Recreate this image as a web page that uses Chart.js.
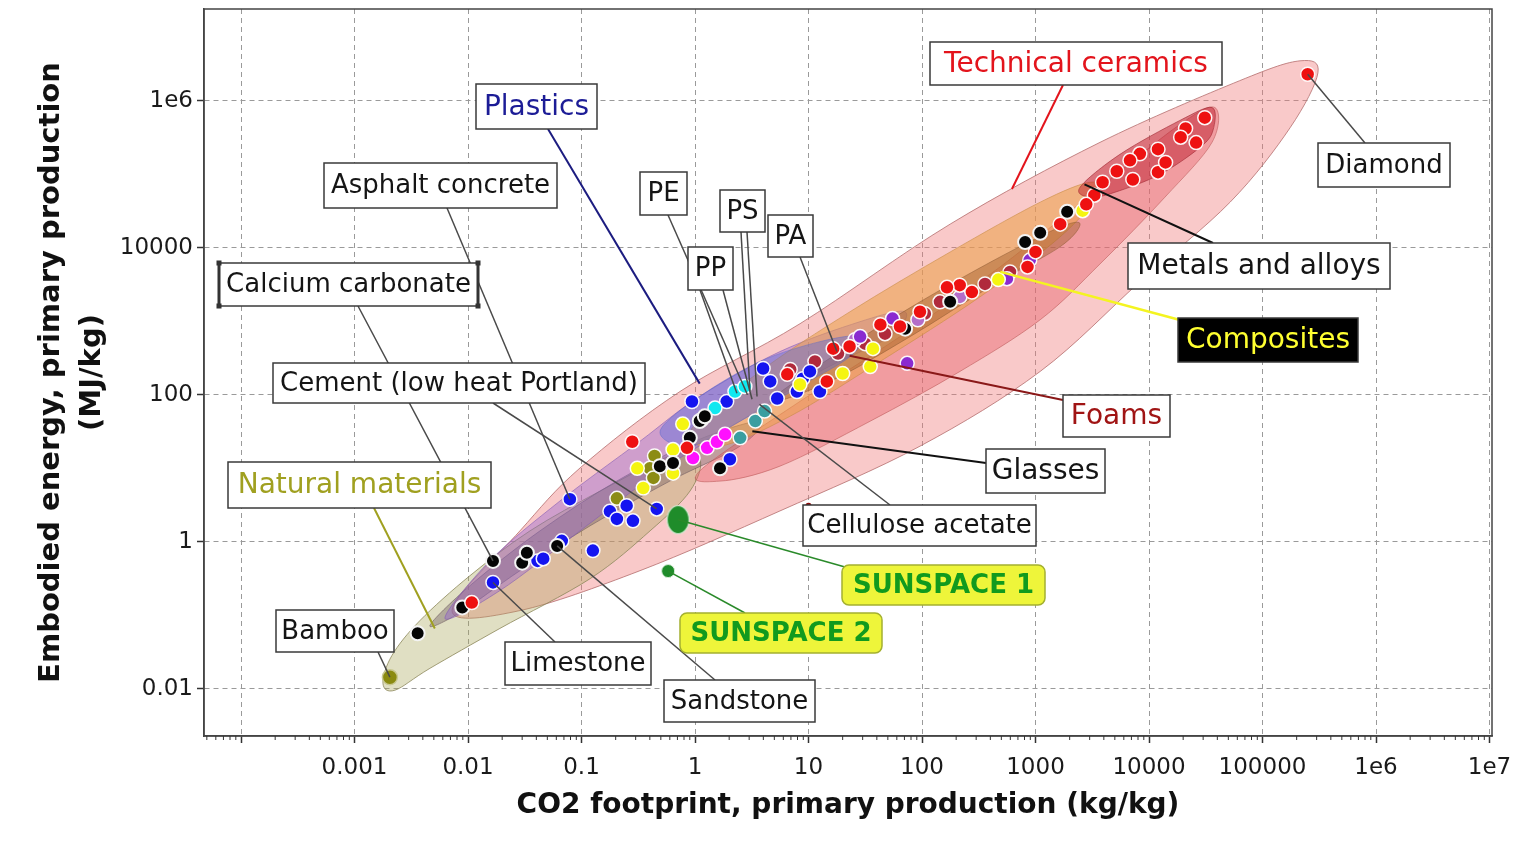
<!DOCTYPE html>
<html>
<head>
<meta charset="utf-8">
<script src="https://cdn.jsdelivr.net/npm/chart.js@4.4.1/dist/chart.umd.min.js"></script>
<style>
html, body { margin: 0; padding: 0; background: #fff; }
#wrap { width: 1527px; height: 860px; }
</style>
</head>
<body>
<div id="wrap"><canvas id="monGraphique" width="1527" height="860"></canvas></div>
<script>
// --- axes ---
const xMin = 4.72e-5, xMax = 1.052e7;
const yMin = 0.00228, yMax = 1.775e7;
const xTicks = [1e-4, 1e-3, 1e-2, 1e-1, 1, 10, 100, 1000, 1e4, 1e5, 1e6, 1e7];
const xTickLabels = ['', '0.001', '0.01', '0.1', '1', '10', '100', '1000', '10000', '100000', '1e6', '1e7'];
const yTicks = [0.01, 1, 100, 1e4, 1e6];
const yTickLabels = ['0.01', '1', '100', '10000', '1e6'];

// --- materials [CO2 kg/kg, energy MJ/kg] ---
const diamond = [[2.5e5, 2.3e6]];
const redPts = [[3.1e4, 5.9e5], [2.1e4, 4.2e5], [2.6e4, 2.7e5], [1.9e4, 3.2e5], [1.2e4, 2.2e5], [8300, 1.9e5],
  [6800, 1.55e5], [5200, 1.1e5], [7200, 8.5e4], [1.2e4, 1.07e5], [1.4e4, 1.45e5], [3900, 7.8e4], [3300, 5.2e4],
  [2800, 3.9e4], [1650, 2.1e4], [1000, 8800], [850, 5500], [215, 3100], [166, 2900], [275, 2500], [96, 1350],
  [64, 850], [43, 900], [23, 455], [16.5, 425], [14.5, 152], [6.5, 190], [0.85, 19], [0.28, 23], [0.0108, 0.149]];
const blackPts = [[1900, 3.1e4], [1100, 1.6e4], [810, 1.2e4], [177, 1850], [71, 795], [1.1, 44], [1.22, 51],
  [0.9, 26], [1.66, 10], [0.49, 10.7], [0.64, 11.8], [0.061, 0.88], [0.0166, 0.55], [0.030, 0.52], [0.033, 0.71],
  [0.0089, 0.128], [0.0036, 0.057]];
const yellowPts = [[2600, 3.2e4], [470, 3700], [37, 425], [35, 242], [20, 195], [8.4, 138], [1.15, 46], [0.78, 40],
  [0.64, 18], [0.31, 10], [0.64, 8.6], [0.35, 5.4]];
const olivePts = [[0.44, 14.7], [0.40, 10], [0.43, 7.4], [0.205, 3.9]];
const bamboo = [[0.00205, 0.0144]];
const bluePts = [[0.94, 81], [0.079, 3.8], [0.178, 2.6], [0.25, 3.1], [0.205, 2.05], [0.284, 1.93], [0.46, 2.8],
  [0.126, 0.76], [0.067, 1.03], [0.041, 0.55], [0.046, 0.59], [0.0166, 0.28], [2.03, 13.3], [3.98, 228], [5.3, 89],
  [7.9, 111], [12.6, 111], [8.9, 166], [1.9, 81], [4.6, 152], [10.3, 208]];
const cyanPts = [[2.25, 111], [1.5, 66], [2.75, 130]];
const tealPts = [[2.5, 26], [3.4, 44], [4.1, 60]];
const magentaPts = [[0.96, 13.8], [1.28, 19], [1.56, 23], [1.84, 29]];
const purplePts = [[890, 6800], [560, 3800], [55, 1090], [28.5, 620], [74, 268]];
const maroonPts = [[6.9, 221], [11.4, 284], [18.2, 364], [31.5, 497], [47.2, 679], [106, 1270], [144, 1840],
  [359, 3230], [596, 4700]];
const lilacPts = [[25.7, 563], [92, 1050], [216, 2150]];
const sunspace1 = [[0.71, 2.0]];
const sunspace2 = [[0.58, 0.40]];
const celluloseMark = [[10, 3.1]];

// --- family envelopes (outline vertices) ---
const envCeramics = [[0.00723, 0.116], [0.0287, 1.41], [0.097, 10.1], [0.738, 111], [8.41, 927], [177, 2.1e4],
  [3700, 2.72e5], [6.3e4, 1.88e6], [2.14e5, 3.5e6], [3.08e5, 2.41e6], [1.75e5, 4.3e5], [5.2e4, 4.2e4],
  [8300, 3440], [1100, 208], [96, 20], [5.6, 2.63], [0.328, 0.405], [0.0287, 0.116]];
const envNatural = [[0.00178, 0.0119], [0.00214, 0.0285], [0.00378, 0.0851], [0.0104, 0.346], [0.0352, 1.41],
  [0.146, 4.91], [0.60, 14.6], [1.1, 13.3], [0.904, 4.91], [0.402, 1.41], [0.119, 0.315], [0.0191, 0.0663],
  [0.00462, 0.019], [0.00227, 0.00957]];
const envStone = [[0.00462, 0.0728], [0.0104, 0.253], [0.0431, 1.41], [0.218, 7.1], [1.1, 24.9], [3.74, 43.6],
  [2.49, 20], [0.60, 6.7], [0.119, 1.65], [0.0287, 0.405], [0.0085, 0.109]];
const envPolymers = [[0.00627, 0.0905], [0.0156, 0.553], [0.0647, 3.6], [0.328, 23.4], [1.1, 95], [5.6, 387],
  [28.4, 988], [70.8, 1350], [52, 618], [12.6, 208], [2.49, 43.6], [0.492, 9.2], [0.097, 1.41], [0.0191, 0.217]];
const envPlastics = [[0.492, 31.9], [1.1, 95], [3.74, 284], [12.6, 529], [28.4, 618], [23.2, 331], [8.41, 130],
  [2.49, 43.6], [0.904, 20]];
const envMetals = [[1.1, 9.2], [8.41, 81.4], [64, 618], [487, 5490], [3700, 6.67e4], [1.87e4, 4.76e5],
  [3.81e4, 8.09e5], [3.59e4, 2.72e5], [1.38e4, 4.88e4], [3700, 6030], [1100, 1050], [216, 208], [34.8, 43.6],
  [5.6, 10.7], [1.66, 6.7]];
const envComposites = [[0.904, 31.9], [3.74, 208], [23.2, 1350], [177, 8770], [1100, 4.18e4], [3020, 7.8e4],
  [3560, 5.36e4], [1640, 1.4e4], [324, 2150], [42.7, 284], [6.87, 51], [1.66, 20]];
const envFoams = [[4.58, 81.4], [18.9, 387], [96, 1840], [487, 7500], [1640, 1.91e4], [2470, 2.1e4],
  [1640, 1.03e4], [397, 2940], [78.4, 618], [15.5, 152]];
const envTechInner = [[2470, 6.67e4], [5550, 1.87e5], [1.87e4, 5.4e5], [3.59e4, 8.09e5], [3.66e4, 3.95e5],
  [2.81e4, 2.32e5], [1.25e4, 1e5], [5010, 5.7e4], [3020, 4.88e4]];

// --- labels and what they point at ---
const labelText = ['Technical ceramics', 'Diamond', 'Plastics', 'PE', 'PP', 'PS', 'PA', 'Asphalt concrete',
  'Calcium carbonate', 'Cement (low heat Portland)', 'Natural materials', 'Bamboo', 'Limestone', 'Sandstone',
  'Glasses', 'Foams', 'Cellulose acetate', 'Metals and alloys', 'Composites', 'SUNSPACE 1', 'SUNSPACE 2'];
const labelTargets = [[[620, 6.3e4]], [[2.5e5, 2.3e6]], [[1.1, 142]], [[2.9, 100]], [[2.34, 105], [3.18, 87]],
  [[3.05, 111], [3.52, 95]], [[17.8, 388]], [[0.079, 3.8]], [[0.0166, 0.55]], [[0.46, 2.8]], [[0.0051, 0.066]],
  [[0.00205, 0.0144]], [[0.0166, 0.28]], [[0.061, 0.88]], [[3.2, 32]], [[23, 340]], [[3.7, 74]], [[2700, 7.3e4]],
  [[490, 4700]], [[0.71, 2.0]], [[0.58, 0.40]]];

// box placement / look (pixels)
const labelLayout = [
  { box: [930, 42, 292, 43], from: [[1063, 85]], size: 28, color: '#e3141c', line: '#e3141c', lw: 2 },
  { box: [1318, 143, 132, 44], from: [[1365, 143]], size: 26 },
  { box: [476, 84, 121, 45], from: [[548, 129]], size: 28, color: '#1c1c96', line: '#1c1c80', lw: 2 },
  { box: [640, 172, 47, 43], from: [[668, 215]], size: 26 },
  { box: [688, 247, 45, 43], from: [[700, 290], [723, 290]], size: 26 },
  { box: [720, 190, 45, 42], from: [[741, 232], [747, 232]], size: 26 },
  { box: [768, 215, 45, 42], from: [[800, 257]], size: 26 },
  { box: [324, 163, 233, 45], from: [[447, 208]], size: 26 },
  { box: [219, 263, 259, 43], from: [[358, 306]], size: 26, handles: true },
  { box: [273, 363, 372, 40], from: [[493, 403]], size: 26 },
  { box: [228, 462, 263, 46], from: [[374, 508]], size: 28, color: '#a0a020', line: '#a0a020', lw: 2 },
  { box: [276, 610, 118, 42], from: [[378, 652]], size: 26 },
  { box: [505, 642, 146, 43], from: [[555, 642]], size: 26 },
  { box: [664, 680, 151, 42], from: [[715, 680]], size: 26 },
  { box: [986, 449, 119, 44], from: [[986, 463]], size: 28, line: '#111', lw: 2 },
  { box: [1063, 395, 107, 42], from: [[1063, 400]], size: 28, color: '#a01414', line: '#8a1818', lw: 2 },
  { box: [803, 505, 233, 41], from: [[890, 505]], size: 26 },
  { box: [1128, 243, 262, 46], from: [[1213, 243]], size: 28, line: '#111', lw: 2 },
  { box: [1178, 318, 180, 44], from: [[1180, 320]], size: 28, color: '#ffff30', fill: '#000', line: '#f4f420', lw: 2.5 },
  { box: [842, 565, 203, 40], from: [[845, 567]], size: 26, sun: true, line: '#2a8a2a', lw: 1.5 },
  { box: [680, 613, 202, 40], from: [[745, 613]], size: 26, sun: true, line: '#2a8a2a', lw: 1.5 }
];

const FONT = "'DejaVu Sans', Verdana, sans-serif";

const envelopes = [
  { pts: envCeramics, fill: 'rgba(240,120,120,0.40)', stroke: 'rgba(180,110,110,0.8)' },
  { pts: envNatural, fill: 'rgba(170,165,90,0.36)', stroke: 'rgba(140,135,90,0.8)' },
  { pts: envStone, fill: 'rgba(110,90,95,0.40)', stroke: 'rgba(110,90,95,0.6)' },
  { pts: envPolymers, fill: 'rgba(150,100,210,0.42)', stroke: 'rgba(130,90,180,0.6)' },
  { pts: envMetals, fill: 'rgba(230,90,100,0.40)', stroke: 'rgba(190,90,90,0.6)' },
  { pts: envComposites, fill: 'rgba(235,160,70,0.55)', stroke: 'rgba(200,140,70,0.6)' },
  { pts: envFoams, fill: 'rgba(160,90,40,0.45)', stroke: 'rgba(140,90,50,0.5)' },
  { pts: envPlastics, fill: 'rgba(80,100,220,0.40)', stroke: 'rgba(80,100,200,0.4)' },
  { pts: envTechInner, fill: 'rgba(190,30,45,0.50)', stroke: 'rgba(160,40,50,0.6)' }
];

function closedCurve(ctx, pts) {
  const n = pts.length;
  ctx.beginPath();
  ctx.moveTo(pts[0][0], pts[0][1]);
  for (let i = 0; i < n; i++) {
    const p0 = pts[(i - 1 + n) % n], p1 = pts[i], p2 = pts[(i + 1) % n], p3 = pts[(i + 2) % n];
    ctx.bezierCurveTo(
      p1[0] + (p2[0] - p0[0]) / 6, p1[1] + (p2[1] - p0[1]) / 6,
      p2[0] - (p3[0] - p1[0]) / 6, p2[1] - (p3[1] - p1[1]) / 6,
      p2[0], p2[1]);
  }
  ctx.closePath();
}

const envelopePlugin = {
  id: 'envelopes',
  beforeDatasetsDraw(chart) {
    const { ctx, chartArea, scales: { x, y } } = chart;
    ctx.save();
    ctx.beginPath();
    ctx.rect(chartArea.left, chartArea.top, chartArea.right - chartArea.left, chartArea.bottom - chartArea.top);
    ctx.clip();
    envelopes.forEach(env => {
      const px = env.pts.map(([a, b]) => [x.getPixelForValue(a), y.getPixelForValue(b)]);
      closedCurve(ctx, px);
      ctx.fillStyle = env.fill;
      ctx.fill();
      ctx.lineWidth = 1;
      ctx.strokeStyle = env.stroke;
      ctx.stroke();
    });
    ctx.restore();
  }
};

const labelPlugin = {
  id: 'labels',
  afterDatasetsDraw(chart) {
    const { ctx, scales: { x, y } } = chart;
    ctx.save();
    // leader lines first
    labelLayout.forEach((lay, i) => {
      labelTargets[i].forEach((t, k) => {
        const f = lay.from[k] || lay.from[0];
        ctx.beginPath();
        ctx.moveTo(f[0], f[1]);
        ctx.lineTo(x.getPixelForValue(t[0]), y.getPixelForValue(t[1]));
        ctx.strokeStyle = lay.line || '#4a4a4a';
        ctx.lineWidth = lay.lw || 1.5;
        ctx.stroke();
      });
    });
    // boxes
    labelLayout.forEach((lay, i) => {
      const [bx, by, bw, bh] = lay.box;
      if (lay.sun) {
        ctx.beginPath();
        ctx.roundRect(bx, by, bw, bh, 7);
        ctx.fillStyle = '#eef53a';
        ctx.fill();
        ctx.strokeStyle = '#a4b030';
        ctx.lineWidth = 1.5;
        ctx.stroke();
      } else {
        ctx.fillStyle = lay.fill || '#fff';
        ctx.fillRect(bx, by, bw, bh);
        ctx.strokeStyle = '#3a3a3a';
        ctx.lineWidth = 1.5;
        ctx.strokeRect(bx, by, bw, bh);
      }
      if (lay.handles) {
        ctx.fillStyle = '#333';
        [[bx, by], [bx + bw, by], [bx, by + bh], [bx + bw, by + bh]].forEach(([hx, hy]) => ctx.fillRect(hx - 2.5, hy - 2.5, 5, 5));
        ctx.fillRect(bx - 1.5, by, 3, bh);
        ctx.fillRect(bx + bw - 1.5, by, 3, bh);
      }
      ctx.font = (lay.sun ? 'bold ' : '') + lay.size + 'px ' + FONT;
      ctx.fillStyle = lay.sun ? '#119a1e' : (lay.color || '#151515');
      ctx.textAlign = 'center';
      ctx.textBaseline = 'middle';
      ctx.fillText(labelText[i], bx + bw / 2, by + bh / 2 + 1);
    });
    ctx.restore();
  }
};

const framePlugin = {
  id: 'frame',
  afterDraw(chart) {
    const { ctx, chartArea: a, scales: { x } } = chart;
    ctx.save();
    ctx.strokeStyle = '#444';
    ctx.lineWidth = 1.5;
    ctx.strokeRect(a.left, a.top, a.right - a.left, a.bottom - a.top);
    // minor ticks on the x axis
    ctx.lineWidth = 1;
    ctx.strokeStyle = '#333';
    for (let d = -5; d <= 6; d++) {
      for (let m = 2; m <= 9; m++) {
        const v = m * Math.pow(10, d);
        if (v < xMin || v > xMax) continue;
        const px = x.getPixelForValue(v);
        ctx.beginPath();
        ctx.moveTo(px, a.bottom);
        ctx.lineTo(px, a.bottom + 4);
        ctx.stroke();
      }
    }
    ctx.restore();
  }
};

// S1 drawn as an oval marker
const ovale = document.createElement('canvas');
ovale.width = 25; ovale.height = 31;
const oc = ovale.getContext('2d');
oc.beginPath();
oc.ellipse(12.5, 15.5, 11, 14, 0, 0, 2 * Math.PI);
oc.fillStyle = '#1f8c2a';
oc.fill();
oc.strokeStyle = '#d8ecd8';
oc.lineWidth = 1.2;
oc.stroke();

function serie(pts, color, extra) {
  return Object.assign({
    data: pts.map(([a, b]) => ({ x: a, y: b })),
    backgroundColor: color,
    borderColor: 'rgba(255,255,255,0.95)',
    borderWidth: 1.5,
    pointRadius: 7,
    pointHoverRadius: 7
  }, extra || {});
}

// first dataset ends up drawn on top
const datasets = [
  serie(celluloseMark, '#8b0a0a', { pointRadius: 3, borderWidth: 0 }),
  serie(sunspace2, '#1f8c2a', { pointRadius: 6.5, borderColor: '#d8ecd8', borderWidth: 1 }),
  serie(sunspace1, '#1f8c2a', { pointStyle: ovale }),
  serie(bamboo, '#8a8a10', { pointRadius: 7.5, borderColor: '#c8c890' }),
  serie(diamond, '#ee1111'),
  serie(redPts, '#ee1111'),
  serie(blackPts, '#050505', { borderColor: '#f4f4f4', borderWidth: 2 }),
  serie(yellowPts, '#f5f510'),
  serie(magentaPts, '#ff10ff'),
  serie(cyanPts, '#10e8f0'),
  serie(tealPts, '#3a9ea0'),
  serie(bluePts, '#1414f0'),
  serie(olivePts, '#8c8c14'),
  serie(purplePts, '#8a2ad0'),
  serie(lilacPts, '#b46cc8'),
  serie(maroonPts, '#b02a3c')
];

const ctx = document.getElementById('monGraphique').getContext('2d');
new Chart(ctx, {
  type: 'scatter',
  data: { datasets },
  plugins: [envelopePlugin, labelPlugin, framePlugin],
  options: {
    responsive: false,
    animation: false,
    devicePixelRatio: 1,
    layout: { padding: { top: 6, right: 35, left: 0, bottom: 0 } },
    plugins: { legend: { display: false }, tooltip: { enabled: false } },
    scales: {
      x: {
        type: 'logarithmic', min: xMin, max: xMax,
        afterBuildTicks: s => { s.ticks = xTicks.map(v => ({ value: v })); },
        afterFit: s => { s.height = 124; s.paddingLeft = 0; s.paddingRight = 0; },
        ticks: { autoSkip: false, maxRotation: 0, padding: 11, color: '#1a1a1a',
          font: { family: FONT, size: 23 }, callback: (v, i) => xTickLabels[i] },
        grid: { color: '#9a9a9a', lineWidth: 1, tickLength: 7, tickColor: '#333', tickWidth: 1.5 },
        border: { display: true, color: '#444', width: 1.5, dash: [5, 4] },
        title: { display: true, text: 'CO2 footprint, primary production (kg/kg)', color: '#111',
          font: { family: FONT, size: 28, weight: 'bold' }, padding: { top: 0, bottom: 37 } }
      },
      y: {
        type: 'logarithmic', min: yMin, max: yMax,
        afterBuildTicks: s => { s.ticks = yTicks.map(v => ({ value: v })); },
        afterFit: s => { s.width = 204; s.paddingTop = 0; s.paddingBottom = 0; },
        ticks: { padding: 4, color: '#1a1a1a', font: { family: FONT, size: 23 },
          callback: (v, i) => yTickLabels[i] },
        grid: { color: '#9a9a9a', lineWidth: 1, tickLength: 7, tickColor: '#333', tickWidth: 1.5 },
        border: { display: true, color: '#444', width: 1.5, dash: [5, 4] },
        title: { display: true, text: ['Embodied energy, primary production', '(MJ/kg)'], color: '#111',
          font: { family: FONT, size: 29, weight: 'bold', lineHeight: 1.41 }, padding: { top: 31, bottom: 0 } }
      }
    }
  }
});
</script>
</body>
</html>
